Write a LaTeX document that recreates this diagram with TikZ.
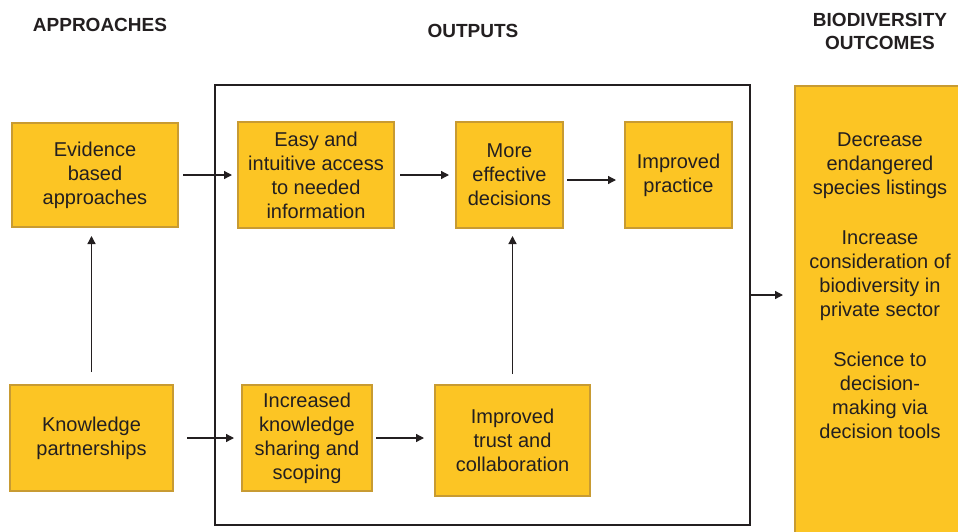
\documentclass[tikz,border=0pt]{standalone}
\usepackage{fontspec}
\setmainfont{Liberation Sans}
\usetikzlibrary{positioning, arrows.meta}
\definecolor{boxfill}{RGB}{252,197,36}
\definecolor{boxline}{RGB}{200,155,50}
\definecolor{inkgray}{RGB}{35,31,32}

\begin{document}
\begin{tikzpicture}[x=1pt,y=-1pt,
  stepbox/.style={draw=boxline,fill=boxfill,line width=2pt,align=center,
    font=\fontsize{20}{24}\selectfont,text=inkgray,inner sep=0pt},
  head/.style={font=\bfseries\fontsize{19}{23}\selectfont,text=inkgray,align=center},
  flow/.style={-{Triangle[length=8pt,width=8pt]},line width=1.3pt,draw=inkgray}]
  \clip (0,0) rectangle (958,531);
  \fill[white] (0,0) rectangle (958,531);
  % column headings
  \node[head] (approach) at (100,25) {APPROACHES};
  \node[head] (outputs) at (473,31) {OUTPUTS};
  \node[head] (bio) at (880,31) {BIODIVERSITY\\OUTCOMES};
  % outputs frame
  \node[draw=inkgray,line width=2.5pt,minimum width=535,minimum height=440]
       (frame) at (482.5,305) {};
  % approaches
  \node[stepbox,minimum width=166,minimum height=104] (evid) at (95,175)
       {Evidence\\based\\approaches};
  \node[stepbox,minimum width=163,minimum height=106] (know) at (91.5,438)
       {Knowledge\\partnerships};
  % outputs
  \node[stepbox,minimum width=156,minimum height=106] (easy) at (316,175)
       {Easy and\\intuitive access\\to needed\\information};
  \node[stepbox,minimum width=107,minimum height=106] (more) at (509.5,175)
       {More\\effective\\decisions};
  \node[stepbox,minimum width=107,minimum height=106] (pract) at (678.5,175)
       {Improved\\practice};
  \node[stepbox,minimum width=130,minimum height=106] (incr) at (307,438)
       {Increased\\knowledge\\sharing and\\scoping};
  \node[stepbox,minimum width=155,minimum height=111] (trust) at (512.5,440.5)
       {Improved\\trust and\\collaboration};
  % outcomes
  \node[stepbox,minimum width=186,minimum height=475,anchor=north west]
       (outcome) at (794,85) {};
  \node[font=\fontsize{20}{24}\selectfont,text=inkgray,align=center]
       (outtxt) at (880,286)
       {Decrease\\endangered\\species listings\\[26pt]Increase\\consideration of\\
        biodiversity in\\private sector\\[26pt]Science to\\decision-\\making via\\
        decision tools};
  % connectors
  \draw[flow,shorten <=4pt,shorten >=5pt] (evid.east) -- (evid.east -| easy.west);
  \draw[flow,shorten <=12pt,shorten >=8pt] (know.north) -- (know.north |- evid.south);
  \draw[flow,shorten <=13pt,shorten >=7pt] (know.east) -- (know.east -| incr.west);
  \draw[flow,shorten <=5pt,shorten >=6pt] (easy.east) -- (easy.east -| more.west);
  \draw[flow,shorten <=3pt,shorten >=8pt] ([yshift=-5pt]more.east)
       -- ([yshift=-5pt]more.east -| pract.west);
  \draw[flow,shorten <=3pt,shorten >=10pt] (incr.east) -- (incr.east -| trust.west);
  \draw[flow,shorten <=10pt,shorten >=7pt] (trust.north) -- (trust.north |- more.south);
  \coordinate (fo) at ([yshift=10pt]frame.east);
  \draw[flow,shorten >=11pt] (fo) -- (fo -| outcome.west);
\end{tikzpicture}
\end{document}
